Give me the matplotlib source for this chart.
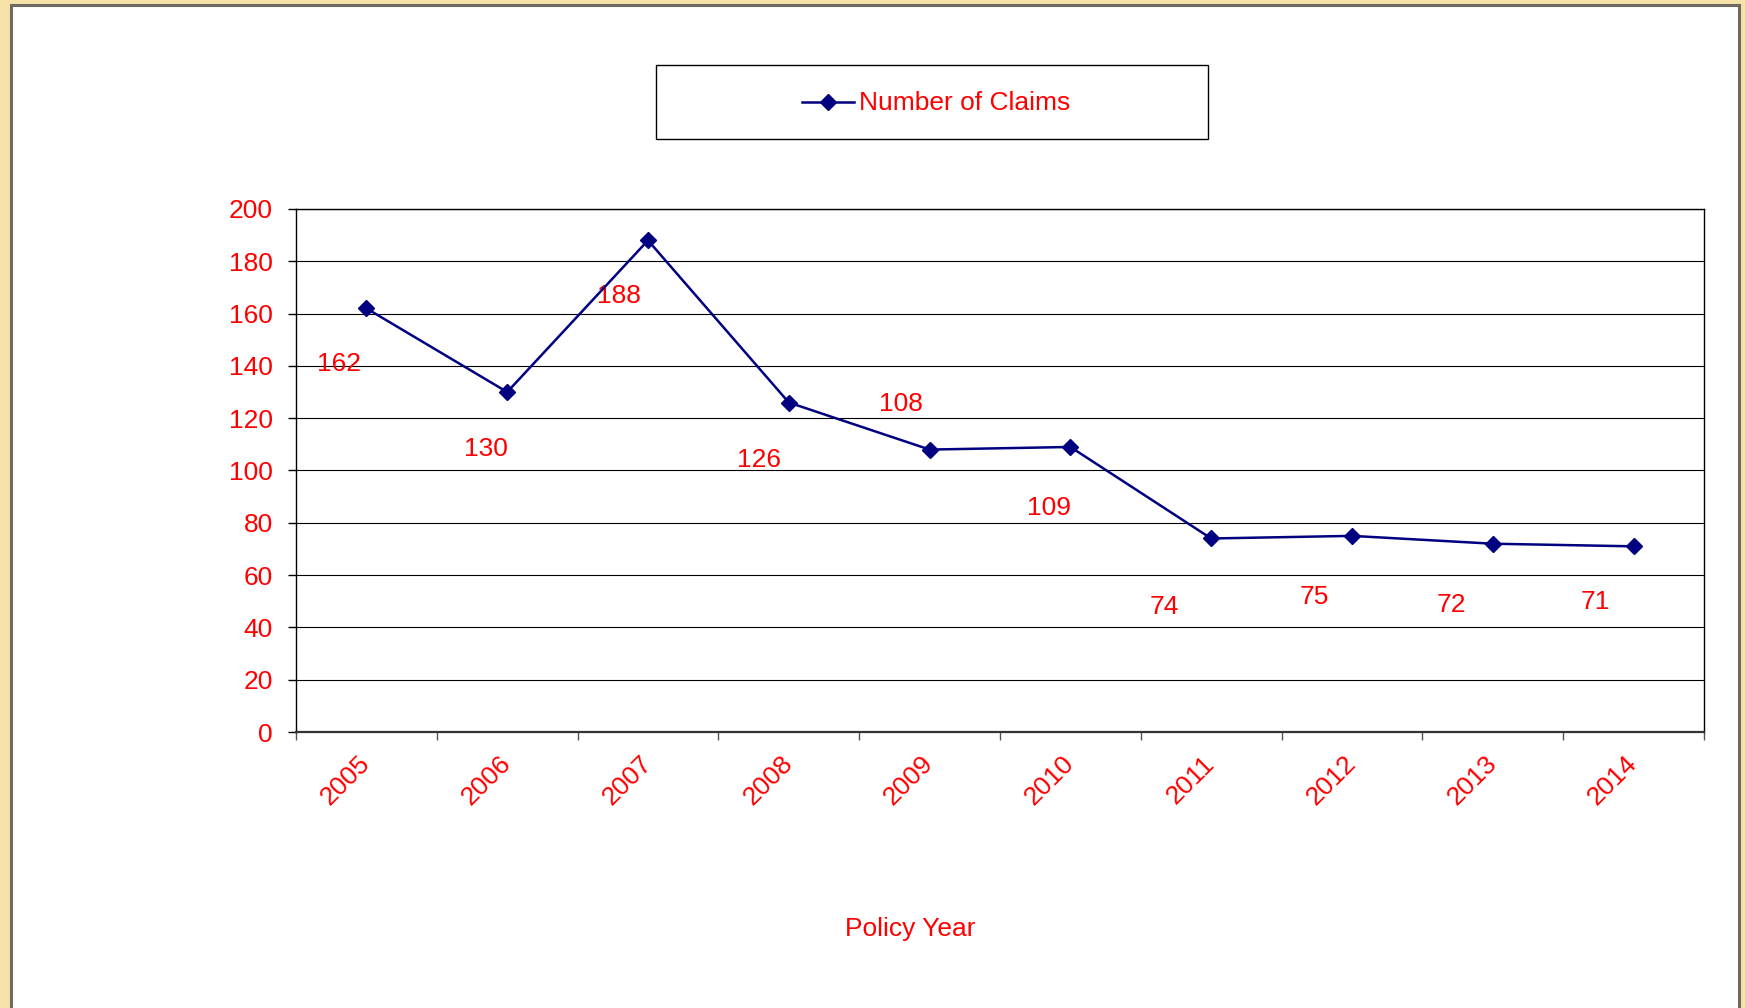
import matplotlib
matplotlib.use("Agg")
import matplotlib.pyplot as plt
from matplotlib.patches import Rectangle
from matplotlib.lines import Line2D

years = ["2005", "2006", "2007", "2008", "2009", "2010", "2011", "2012", "2013", "2014"]
claims = [162, 130, 188, 126, 108, 109, 74, 75, 72, 71]
series_name = "Number of Claims"
x_title = "Policy Year"
y_ticks = list(range(0, 201, 20))

# label offsets (pixels, relative to point; +y is down in image)
label_offsets_px = [(-27, 56), (-21, 57), (-29, 56), (-30, 57), (-29, -46),
                    (-21, 61), (-47, 69), (-38, 61), (-41, 61), (-38, 56)]

W, H = 1745, 1008
DPI = 100
FS = 19
plt.rcParams['font.family'] = ['Liberation Sans', 'DejaVu Sans']
fig = plt.figure(figsize=(W / DPI, H / DPI), dpi=DPI)
fig.patch.set_facecolor('#f4e2a8')

# white panel
panel = Rectangle((11 / W, -0.05), (1739 - 11) / W, (H - 4.5) / H + 0.05,
                  transform=fig.transFigure, facecolor='white',
                  edgecolor='#6e6a60', linewidth=2.2, zorder=-10)
fig.patches.append(panel)

left, right, top, bottom = 296, 1704, 209, 732
ax = fig.add_axes([left / W, (H - bottom) / H, (right - left) / W, (bottom - top) / H])
ax.set_zorder(1)
ax.set_facecolor('white')

red = '#ff0000'
navy = '#000080'
xs = list(range(len(years)))
ax.plot(xs, claims, color=navy, linewidth=1.8, marker='D', markersize=8.5,
        markerfacecolor=navy, markeredgecolor=navy, zorder=5, clip_on=False)

px2pt = 72 / DPI
for x, v, (dx, dy) in zip(xs, claims, label_offsets_px):
    ax.annotate(str(v), (x, v), xytext=(dx * px2pt, -dy * px2pt),
                textcoords='offset points', ha='center', va='center',
                color=red, fontsize=FS)

ax.set_xlim(-0.5, len(years) - 0.5)
ax.set_ylim(0, 200)
ax.set_yticks(y_ticks)
ax.set_yticklabels([str(t) for t in y_ticks], color=red, fontsize=FS)
ax.tick_params(axis='y', length=6, width=1, pad=10.5, color='#000000')
ax.grid(axis='y', color='#000000', linewidth=0.8)
ax.set_axisbelow(True)

# x ticks at boundaries, labels at centers
ax.set_xticks([i - 0.5 for i in range(len(years) + 1)])
ax.set_xticklabels([])
ax.tick_params(axis='x', length=6, width=1, color='#555555')
ax.set_xticks(xs, minor=True)
ax.set_xticklabels(years, minor=True, rotation=45, ha='right', va='center',
                   rotation_mode='anchor', color=red, fontsize=FS)
ax.tick_params(axis='x', which='minor', length=0, pad=20)

for s in ['top', 'right', 'left']:
    ax.spines[s].set_color('#000000')
    ax.spines[s].set_linewidth(1.0)
ax.spines['bottom'].set_color('#333333')
ax.spines['bottom'].set_linewidth(1.6)

fig.text(910 / W, 1 - 929 / H, x_title, color=red, fontsize=FS, ha='center', va='center')

# legend box
lg_l, lg_r, lg_t, lg_b = 656, 1208, 64.5, 139
fig.patches.append(Rectangle((lg_l / W, 1 - lg_b / H), (lg_r - lg_l) / W, (lg_b - lg_t) / H,
                             transform=fig.transFigure, facecolor='white',
                             edgecolor='#000000', linewidth=1.0, zorder=3))
ly = 1 - 102 / H
fig.lines.append(Line2D([802 / W, 854 / W], [ly, ly], transform=fig.transFigure,
                        color=navy, linewidth=1.8, zorder=4))
fig.lines.append(Line2D([828 / W], [ly], transform=fig.transFigure, color=navy,
                        marker='D', markersize=8.5, zorder=5))
fig.text(859 / W, 1 - 103 / H, series_name, color=red, fontsize=FS, ha='left', va='center', zorder=6)

fig.savefig('out.png', dpi=DPI, facecolor=fig.get_facecolor())
